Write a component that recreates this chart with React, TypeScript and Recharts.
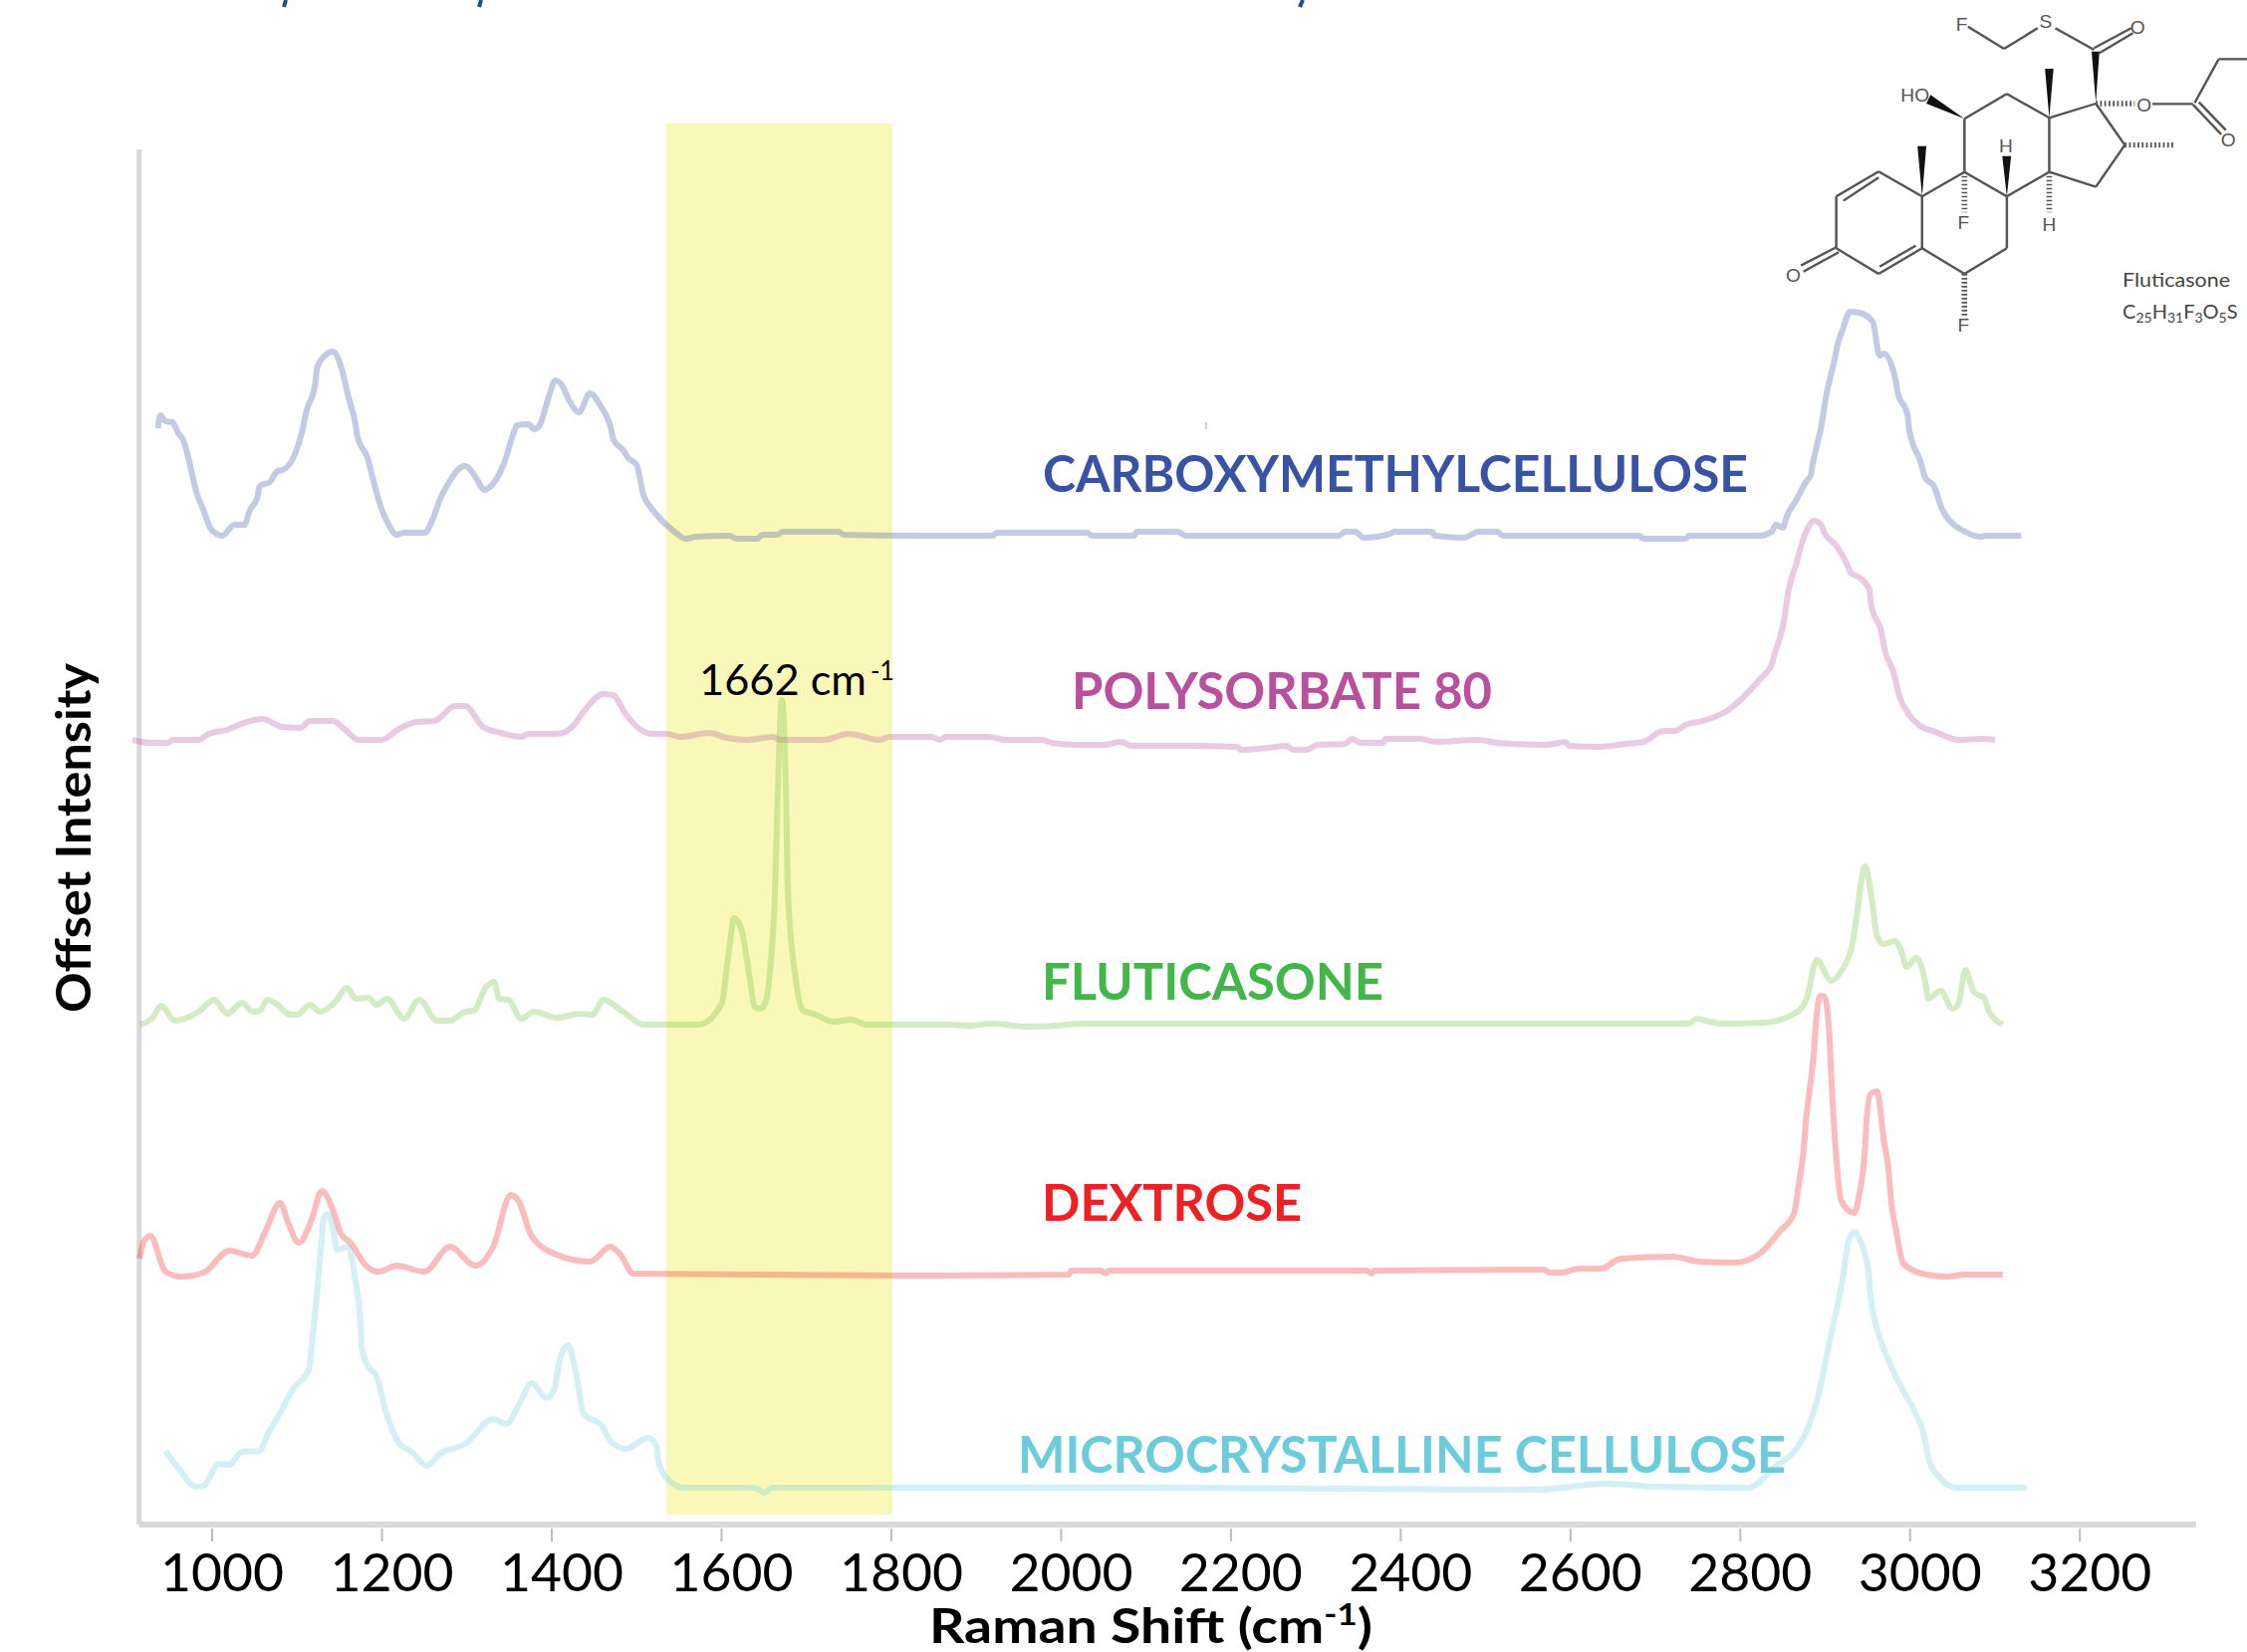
import React from 'react';
import { LineChart, Line, XAxis, YAxis, ReferenceArea, ReferenceLine } from 'recharts';

type Point = [number, number];

// [raman shift, offset intensity]
const carboxymethylcellulose: Point[] = [
  [936,1101],[939,1114],[945,1108],[953,1107],[960,1096],[966,1089],[972,1071],[981,1038],[990,1018],[999,999],
  [1012,993],[1026,1004],[1038,1004],[1044,1018],[1053,1031],[1056,1043],[1068,1047],[1077,1058],[1083,1059],[1098,1076],
  [1106,1098],[1111,1118],[1121,1144],[1124,1163],[1133,1174],[1142,1178],[1153,1159],[1160,1134],[1169,1104],[1171,1093],
  [1183,1071],[1190,1048],[1199,1021],[1208,1004],[1217,994],[1226,996],[1250,996],[1259,1008],[1269,1031],[1280,1048],
  [1289,1059],[1298,1063],[1307,1056],[1313,1048],[1320,1039],[1334,1049],[1343,1064],[1355,1096],[1359,1104],[1373,1105],
  [1379,1100],[1385,1103],[1397,1134],[1404,1149],[1412,1144],[1421,1128],[1432,1117],[1445,1136],[1457,1124],[1469,1103],
  [1473,1089],[1484,1079],[1490,1071],[1500,1064],[1508,1034],[1517,1021],[1535,1004],[1546,996],[1558,990],[1570,992],
  [1609,993],[1618,990],[1642,990],[1648,994],[1666,994],[1672,997],[1738,997],[1744,994],[1830,993],[1919,993],
  [1925,996],[2031,996],[2036,993],[2086,993],[2089,997],[2137,997],[2147,993],[2327,993],[2334,997],[2347,997],
  [2356,991],[2388,995],[2392,997],[2437,997],[2440,993],[2475,991],[2491,997],[2514,997],[2520,993],[2681,993],
  [2685,990],[2736,990],[2739,993],[2823,993],[2837,997],[2842,1004],[2850,1001],[2855,1013],[2866,1029],[2878,1048],
  [2883,1054],[2885,1064],[2897,1111],[2899,1123],[2912,1174],[2914,1183],[2921,1201],[2929,1218],[2940,1217],[2956,1208],
  [2964,1174],[2969,1176],[2983,1149],[2985,1138],[2997,1114],[2999,1099],[3012,1068],[3018,1051],[3028,1043],[3038,1019],
  [3065,997],[3083,992],[3089,993],[3131,993],
];

const polysorbate80: Point[] = [
  [906,788],[927,785],[948,785],[954,788],[984,788],[996,794],[1017,798],[1041,806],[1059,809],[1083,801],
  [1104,800],[1115,807],[1142,807],[1157,798],[1172,788],[1199,788],[1220,799],[1241,806],[1262,807],[1286,822],
  [1298,822],[1319,801],[1340,795],[1364,791],[1373,794],[1406,794],[1424,801],[1439,818],[1460,834],[1472,833],
  [1487,814],[1505,798],[1517,794],[1535,794],[1552,791],[1585,795],[1606,790],[1630,788],[1660,791],[1669,788],
  [1720,788],[1750,794],[1786,788],[1798,791],[1848,791],[1857,788],[1864,791],[1915,791],[1935,788],[1977,788],
  [1989,785],[2018,783],[2051,783],[2070,786],[2083,782],[2150,782],[2208,781],[2211,778],[2244,780],[2266,782],
  [2273,778],[2289,778],[2302,783],[2334,784],[2343,789],[2353,785],[2379,785],[2382,789],[2424,789],[2440,786],
  [2491,788],[2514,785],[2572,783],[2594,786],[2598,782],[2633,781],[2665,784],[2686,786],[2709,797],[2723,797],
  [2735,803],[2756,807],[2784,817],[2823,849],[2837,864],[2840,873],[2853,916],[2855,929],[2867,968],[2870,978],
  [2881,1003],[2887,1008],[2895,1004],[2899,996],[2913,983],[2926,964],[2930,956],[2940,951],[2952,939],[2954,924],
  [2967,893],[2969,883],[2982,851],[2984,843],[2999,813],[3012,802],[3030,796],[3057,788],[3085,789],[3100,788],
];

const fluticasone: Point[] = [
  [915,502],[930,509],[940,521],[956,506],[984,515],[1002,527],[1018,513],[1035,524],[1048,515],[1056,516],
  [1065,527],[1074,524],[1092,512],[1100,512],[1115,522],[1127,515],[1145,525],[1159,539],[1169,528],[1184,529],
  [1194,522],[1206,528],[1226,508],[1244,527],[1265,506],[1280,506],[1298,515],[1308,516],[1322,539],[1332,545],
  [1338,528],[1349,527],[1364,508],[1379,515],[1406,509],[1433,513],[1448,512],[1461,527],[1484,515],[1508,502],
  [1573,502],[1600,523],[1608,572],[1615,609],[1623,599],[1633,550],[1639,520],[1646,518],[1652,525],[1657,556],
  [1663,638],[1666,731],[1671,828],[1676,731],[1678,638],[1687,550],[1696,516],[1708,513],[1732,505],[1753,507],
  [1771,502],[1801,502],[1870,502],[1890,501],[1920,503],[1960,500],[1995,501],[2025,503],[2739,503],[2749,508],
  [2759,506],[2781,503],[2828,504],[2869,516],[2878,528],[2890,567],[2907,546],[2919,556],[2932,583],[2936,605],
  [2947,661],[2955,627],[2961,591],[2969,583],[2982,586],[2990,575],[2996,560],[3007,569],[3019,539],[3021,528],
  [3036,536],[3050,518],[3057,523],[3065,557],[3075,535],[3088,528],[3092,517],[3109,502],
];

const dextrose: Point[] = [
  [914,267],[920,285],[927,290],[945,254],[963,249],[990,253],[1020,275],[1047,270],[1062,293],[1080,323],[1089,304],
  [1102,283],[1117,306],[1129,335],[1145,309],[1151,293],[1163,283],[1181,260],[1196,254],[1217,260],[1250,254],
  [1280,279],[1310,260],[1331,279],[1352,331],[1361,325],[1376,290],[1406,271],[1445,264],[1469,279],[1481,271],
  [1496,252],[1851,250],[2009,251],[2012,255],[2047,255],[2052,252],[2056,255],[2360,255],[2366,252],[2369,255],
  [2543,256],[2569,256],[2575,253],[2588,253],[2611,257],[2636,257],[2659,267],[2720,269],[2752,264],[2794,263],
  [2824,273],[2847,295],[2863,312],[2869,342],[2875,380],[2877,402],[2886,468],[2890,512],[2894,531],[2899,530],
  [2905,490],[2907,452],[2913,369],[2919,325],[2934,313],[2940,331],[2947,380],[2948,397],[2953,432],[2961,435],
  [2969,386],[2975,353],[2977,331],[2984,293],[2992,262],[3019,251],[3044,249],[3065,251],[3109,251],
];

const microcrystallineCellulose: Point[] = [
  [945,74],[960,57],[981,38],[990,39],[1008,61],[1020,60],[1035,73],[1056,74],[1065,90],[1080,112],
  [1095,136],[1114,156],[1117,178],[1124,238],[1129,287],[1131,306],[1136,312],[1142,298],[1147,276],[1160,279],
  [1168,249],[1175,199],[1176,178],[1184,158],[1193,150],[1205,112],[1220,82],[1235,73],[1253,59],[1268,71],
  [1298,81],[1331,106],[1346,101],[1364,125],[1376,142],[1394,127],[1403,136],[1409,164],[1419,180],[1430,145],
  [1437,112],[1460,98],[1469,84],[1487,76],[1514,87],[1523,79],[1526,62],[1540,43],[1555,37],[1639,37],
  [1650,32],[1660,37],[2108,37],[2565,35],[2590,37],[2643,41],[2668,40],[2700,38],[2809,37],[2844,60],
  [2861,71],[2876,90],[2890,123],[2905,183],[2921,249],[2928,287],[2935,294],[2940,287],[2951,254],[2953,232],
  [2965,186],[2975,164],[2992,134],[3005,114],[3019,79],[3021,68],[3036,46],[3055,37],[3138,37],
];

const shiftTicks = [1000, 1200, 1400, 1600, 1800, 2000, 2200, 2400, 2600, 2800, 3000, 3200];

const seriesList = [
  { name: 'CARBOXYMETHYLCELLULOSE', points: carboxymethylcellulose, line: '#3853a4', text: '#3853a4', x: 1047, y: 494, w: 708 },
  { name: 'POLYSORBATE 80', points: polysorbate80, line: '#b8509e', text: '#b8509e', x: 1076, y: 712, w: 422 },
  { name: 'FLUTICASONE', points: fluticasone, line: '#6cbf3b', text: '#43b649', x: 1046, y: 1004, w: 343 },
  { name: 'DEXTROSE', points: dextrose, line: '#ee2024', text: '#ee2024', x: 1046, y: 1226, w: 261 },
  { name: 'MICROCRYSTALLINE CELLULOSE', points: microcrystallineCellulose, line: '#6cccdc', text: '#6cccdc', x: 1022, y: 1479, w: 771 },
];

const FONT = 'Lato, sans-serif';
const AXIS_GREY = '#d9d9d9';

// tick mark sits a little below the axis, label is shifted right of it like the original
const RamanTick = ({ x, y, payload }: any) => (
  <g>
    <line x1={x} x2={x} y1={y + 4} y2={y + 17} stroke="#bdbdbd" strokeWidth={2} />
    <text x={x + 10} y={y + 67} textAnchor="middle" fontFamily={FONT} fontSize={53} fill="#000" textLength={124} lengthAdjust="spacingAndGlyphs">
      {payload.value}
    </text>
  </g>
);

// plain svg children end up under the band, so the peak note goes in through the area's label
const PeakNote = () => (
  <g>
    <text x={702} y={698} fontFamily={FONT} fontSize={42} fill="#000" textLength={168} lengthAdjust="spacingAndGlyphs">
      1662 cm
    </text>
    <text x={874} y={683} fontFamily={FONT} fontSize={27} fill="#000" textLength={24} lengthAdjust="spacingAndGlyphs">
      -1
    </text>
  </g>
);

// fluticasone structure inset, coordinates local to the inset
const bonds = [
  [778,80,880,147],[880,147,975,85],[1025,85,1135,150],[1135,145,1240,85],[1150,160,1245,100],
  [1140,312,1008,355],[1008,355,888,283],[888,283,768,358],[768,358,768,518],[768,518,888,592],
  [888,592,1008,518],[1008,518,1008,355],[1008,518,1140,563],[1140,563,1222,437],[1222,437,1140,312],
  [1300,313,1415,313],[1420,310,1488,178],[1488,178,1568,178],[1415,315,1495,405],[1432,308,1508,392],
  [768,518,648,592],[648,592,648,748],[648,748,768,825],[768,825,888,748],[888,748,888,592],
  [648,592,525,517],[525,517,405,592],[525,535,425,605],[405,592,405,748],[405,748,525,825],
  [525,825,648,748],[528,803,630,740],[405,745,305,800],[412,760,312,818],
];
const wedges = [
  '1140,310 1128,155 1150,155', '1008,355 996,207 1020,207', '768,358 672,286 660,312',
  '648,592 635,440 660,440', '888,592 875,470 900,470',
];
const hashes = [
  [1222,437,1360,437],[1140,312,1250,312],[768,518,768,640],[1008,518,1008,640],[768,825,768,950],
];
const atoms = [
  ['F',760,92],['S',998,85],['O',1258,102],['HO',628,305],['O',1277,335],['O',1515,442],
  ['H',885,460],['F',765,690],['H',1008,695],['F',765,1000],['O',283,848],
];

const Inset = () => (
  <g>
    <g transform="translate(1700,0) scale(0.3546,0.3333)">
      {bonds.map((b, i) => (
        <line key={i} x1={b[0]} y1={b[1]} x2={b[2]} y2={b[3]} stroke="#555" strokeWidth={7} />
      ))}
      {wedges.map((w, i) => (
        <polygon key={i} points={w} fill="#111" />
      ))}
      {hashes.map((h, i) => (
        <line key={i} x1={h[0]} y1={h[1]} x2={h[2]} y2={h[3]} stroke="#555" strokeWidth={16} strokeDasharray="5 7" />
      ))}
      {atoms.map((a, i) => (
        <text key={i} x={a[1] as number} y={a[2] as number} textAnchor="middle" fontFamily="'Liberation Sans', sans-serif" fontSize={54} fill="#555">
          {a[0]}
        </text>
      ))}
    </g>
    <text x={2131} y={288} fontFamily={FONT} fontSize={20} fill="#444" textLength={108} lengthAdjust="spacingAndGlyphs">Fluticasone</text>
    <text x={2131} y={320} fontFamily={FONT} fontSize={20} fill="#444">
      C<tspan fontSize={14} dy={4}>25</tspan><tspan dy={-4}>H</tspan><tspan fontSize={14} dy={4}>31</tspan><tspan dy={-4}>F</tspan><tspan fontSize={14} dy={4}>3</tspan><tspan dy={-4}>O</tspan><tspan fontSize={14} dy={4}>5</tspan><tspan dy={-4}>S</tspan>
    </text>
  </g>
);

export default function App() {
  return (
    <div style={{ position: 'absolute', left: 0, top: 0, background: '#fff' }}>
      <LineChart width={2256} height={1659} margin={{ top: 150, left: 127.8, right: 51, bottom: 0 }}>
        <ReferenceArea x1={1535} x2={1801} y1={10} y2={1407} fill="#faf8b9" fillOpacity={1} stroke="none" ifOverflow="visible" label={<PeakNote />} />
        <XAxis
          type="number"
          dataKey="x"
          domain={[900, 3337]}
          ticks={shiftTicks}
          interval={0}
          height={128}
          tickLine={false}
          tickSize={0}
          tickMargin={0}
          axisLine={false}
          tick={<RamanTick />}
        />
        <YAxis type="number" domain={[0, 1381]} hide />
        {/* axes stop at 914, the polysorbate trace pokes out left of the vertical one */}
        <ReferenceLine segment={[{ x: 914, y: 0 }, { x: 3337, y: 0 }]} stroke={AXIS_GREY} strokeWidth={6} ifOverflow="visible" />
        <ReferenceLine segment={[{ x: 914, y: 0 }, { x: 914, y: 1381 }]} stroke={AXIS_GREY} strokeWidth={5} ifOverflow="visible" />
        {seriesList.map(s => (
          <Line
            key={s.name}
            data={s.points.map(([x, y]) => ({ x, y }))}
            dataKey="y"
            type="monotoneX"
            stroke={s.line}
            strokeOpacity={0.3}
            strokeWidth={6}
            strokeLinejoin="round"
            dot={false}
            activeDot={false}
            isAnimationActive={false}
          />
        ))}
        {/* stray mark and small break in the blue trace */}
        <line x1={1211} y1={424} x2={1211} y2={431} stroke="#c4d0e8" strokeWidth={2} />
        <line x1={1212} y1={533} x2={1212} y2={543} stroke="#fff" strokeWidth={2} />
        {seriesList.map(s => (
          <text key={s.name} x={s.x} y={s.y} fontFamily={FONT} fontWeight={700} fontSize={51} fill={s.text} textLength={s.w} lengthAdjust="spacingAndGlyphs">
            {s.name}
          </text>
        ))}
        <text x={933} y={1650} fontFamily={FONT} fontWeight={700} fontSize={47} fill="#000" textLength={445} lengthAdjust="spacingAndGlyphs">
          Raman Shift (cm<tspan fontSize={30} dy={-18}>-1</tspan><tspan dy={18}>)</tspan>
        </text>
        <text transform="translate(91,1017) rotate(-90)" fontFamily={FONT} fontWeight={700} fontSize={48} fill="#000" textLength={351} lengthAdjust="spacingAndGlyphs">
          Offset Intensity
        </text>
        <Inset />
        {/* clipped descenders of the title line above the crop */}
        <line x1={287} y1={0} x2={285} y2={7} stroke="#1f4e79" strokeWidth={4} />
        <line x1={483} y1={0} x2={481} y2={7} stroke="#1f4e79" strokeWidth={4} />
        <line x1={1308} y1={0} x2={1305} y2={7} stroke="#1f4e79" strokeWidth={4} />
      </LineChart>
    </div>
  );
}
